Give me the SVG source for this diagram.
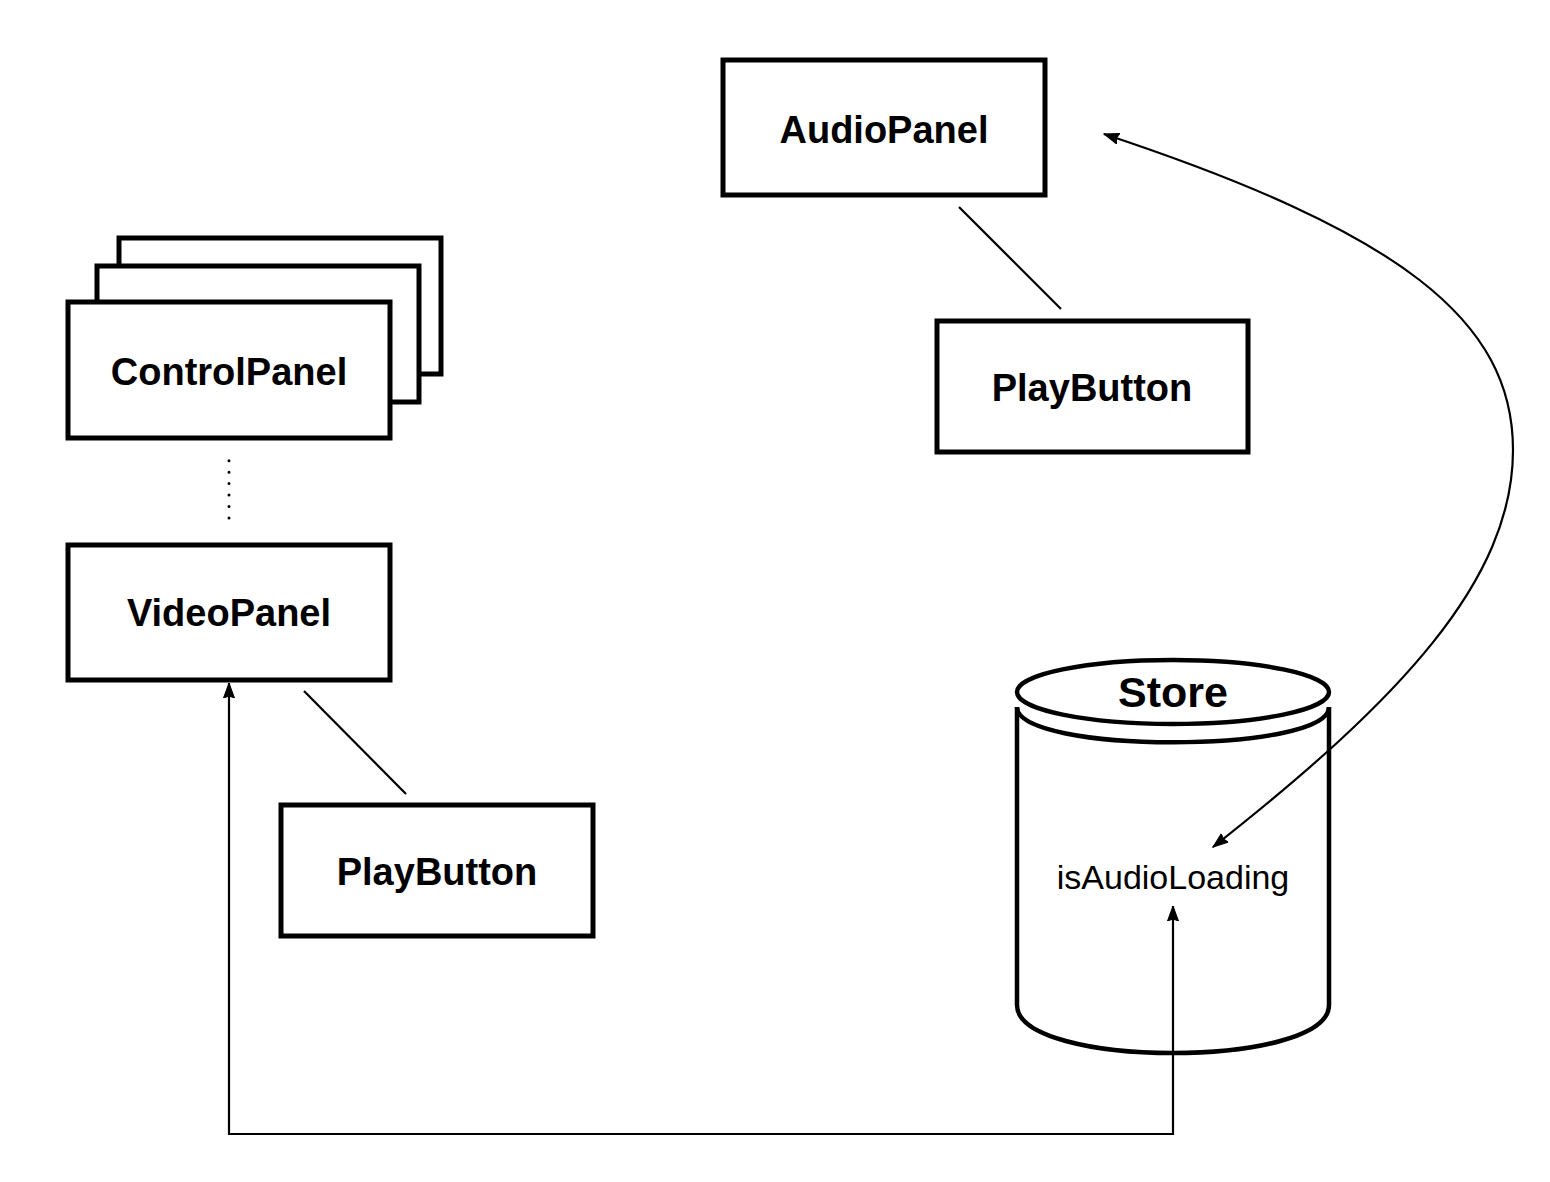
<svg xmlns="http://www.w3.org/2000/svg" width="1550" height="1182" viewBox="0 0 1550 1182">
<style>
.box{fill:#fff;stroke:#000;stroke-width:5}
.lbl{font-family:"Liberation Sans",Arial,Helvetica,sans-serif;font-weight:bold;font-size:38px;text-anchor:middle;fill:#000}
.txt{font-family:"Liberation Sans",Arial,Helvetica,sans-serif;font-size:34px;text-anchor:middle;fill:#000}
.con{fill:none;stroke:#000;stroke-width:2.2}
</style>
<defs>
<marker id="arr" markerUnits="userSpaceOnUse" markerWidth="16" markerHeight="12" refX="15" refY="6" orient="auto-start-reverse" viewBox="0 0 16 12">
<path d="M0,0.5 L15,6 L0,11.5 L2,6 z" fill="#000" stroke="#000" stroke-width="1" stroke-linejoin="miter"/>
</marker>
</defs>
<rect width="1550" height="1182" fill="#fff"/>
<g id="controlpanel">
<rect class="box" x="119" y="238" width="322" height="136"/>
<rect class="box" x="97" y="266" width="322" height="136"/>
<rect class="box" x="68" y="302" width="322" height="136"/>
<text class="lbl" x="229" y="385">ControlPanel</text>
</g>
<g id="videopanel">
<rect class="box" x="68" y="545" width="322" height="135"/>
<text class="lbl" x="229" y="626">VideoPanel</text>
</g>
<g id="playbutton-video">
<rect class="box" x="281" y="805" width="312" height="131"/>
<text class="lbl" x="437" y="885">PlayButton</text>
</g>
<g id="audiopanel">
<rect class="box" x="723" y="60" width="322" height="135"/>
<text class="lbl" x="884" y="143">AudioPanel</text>
</g>
<g id="playbutton-audio">
<rect class="box" x="937" y="321" width="311" height="131"/>
<text class="lbl" x="1092" y="401">PlayButton</text>
</g>
<g id="store">
<path d="M1017,707 L1017,1005 C1017,1069 1329,1069 1329,1005 L1329,707" fill="#fff" stroke="#000" stroke-width="4.5"/>
<path d="M1017,707 C1017,754 1329,754 1329,707" fill="none" stroke="#000" stroke-width="4.5"/>
<ellipse cx="1173" cy="692" rx="156" ry="32" fill="#fff" stroke="#000" stroke-width="4.5"/>
<text x="1173" y="707" font-family="'Liberation Sans',Arial,Helvetica,sans-serif" font-weight="bold" font-size="43" text-anchor="middle">Store</text>
<text class="txt" x="1173" y="889">isAudioLoading</text>
</g>
<g id="connectors">
<line class="con" x1="959" y1="207" x2="1061" y2="309"/>
<line class="con" x1="304" y1="691" x2="406" y2="794"/>
<line x1="229" y1="460.7" x2="229" y2="519" stroke="#000" stroke-width="3" stroke-linecap="round" stroke-dasharray="0 11.45"/>
<path class="con" d="M1173,906 L1173,1134 L229,1134 L229,683" marker-start="url(#arr)" marker-end="url(#arr)"/>
<path class="con" d="M1104,134 C1400,232 1513,320 1513,450 C1513,580 1400,700 1213,847" marker-start="url(#arr)" marker-end="url(#arr)"/>
</g>
</svg>
